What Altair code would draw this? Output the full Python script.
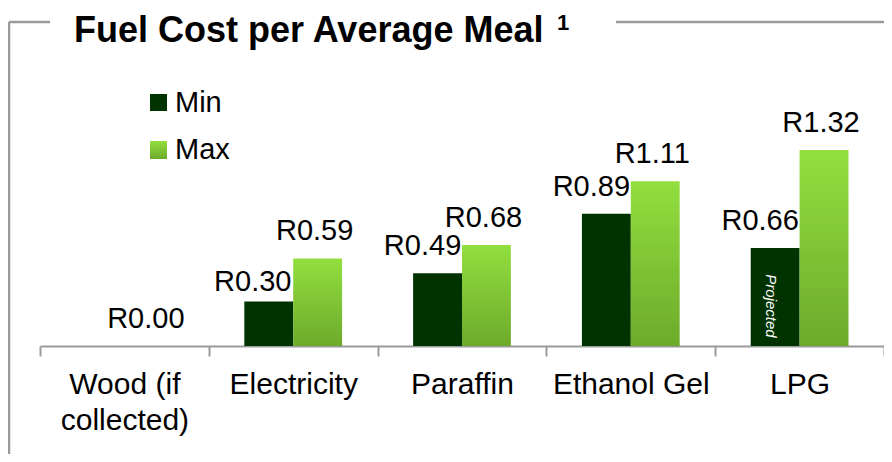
import altair as alt
import pandas as pd

# ---- data ----
categories = ["Wood (if collected)", "Electricity", "Paraffin", "Ethanol Gel", "LPG"]
series = ["Min", "Max"]
min_values = [0.00, 0.30, 0.49, 0.89, 0.66]
max_values = [0.00, 0.59, 0.68, 1.11, 1.32]
min_labels = ["", "R0.30", "R0.49", "R0.89", "R0.66"]
max_labels = ["R0.00", "R0.59", "R0.68", "R1.11", "R1.32"]

rows = []
for c, v, l in zip(categories, min_values, min_labels):
    rows.append({"category": c, "series": "Min", "value": v, "label": l})
for c, v, l in zip(categories, max_values, max_labels):
    rows.append({"category": c, "series": "Max", "value": v, "label": l})
df = pd.DataFrame(rows)
one = pd.DataFrame({"d": [0]})

FONT = "Liberation Sans"
W, H = 844, 297
GRAY = "#9a9a9a"
DARK = "#003300"
max_grad = alt.Gradient(
    gradient="linear",
    stops=[alt.GradientStop(color="#92DF3F", offset=0),
           alt.GradientStop(color="#6DAA2B", offset=1)],
    x1=0, x2=0, y1=0, y2=1,
)

x_enc = alt.X(
    "category:N", sort=categories,
    scale=alt.Scale(paddingInner=0, paddingOuter=0),
    axis=alt.Axis(
        title=None, labelAngle=0, labelFontSize=30, labelFont=FONT,
        labelColor="black", labelLineHeight=36, labelPadding=13,
        tickBand="extent", tickSize=10, tickColor=GRAY, tickWidth=2,
        domainColor=GRAY, domainWidth=2, labelAlign="center",
        labelExpr="datum.label == 'Wood (if collected)' ? ['Wood (if', 'collected)'] : datum.label",
    ),
)
xo_enc = alt.XOffset("series:N", sort=series,
                     scale=alt.Scale(domain=series, paddingOuter=0.7265, paddingInner=0))
y_enc = alt.Y("value:Q", scale=alt.Scale(domain=[0, 2], nice=False, zero=True), axis=None)

base = alt.Chart(df)

min_bars = base.transform_filter(alt.datum.series == "Min").mark_bar(fill=DARK).encode(
    x=x_enc, xOffset=xo_enc, y=y_enc)
max_bars = base.transform_filter(alt.datum.series == "Max").mark_bar(fill=max_grad).encode(
    x=x_enc, xOffset=xo_enc, y=y_enc)

min_text = base.transform_filter(
    (alt.datum.series == "Min") & (alt.datum.label != "") & (alt.datum.category != "Electricity")
).mark_text(
    font=FONT, fontSize=29, color="black", align="center", baseline="alphabetic", dy=-18, dx=-15
).encode(x=x_enc, xOffset=xo_enc, y=y_enc, text="label:N")
# the Electricity min label sits closer to its bar in the reference
min_text_elec = base.transform_filter(
    (alt.datum.series == "Min") & (alt.datum.category == "Electricity")
).mark_text(
    font=FONT, fontSize=29, color="black", align="center", baseline="alphabetic", dy=-10, dx=-16
).encode(x=x_enc, xOffset=xo_enc, y=y_enc, text="label:N")
max_text = base.transform_filter(alt.datum.series == "Max").mark_text(
    font=FONT, fontSize=29, color="black", align="center", baseline="alphabetic", dy=-18, dx=-3
).encode(x=x_enc, xOffset=xo_enc, y=y_enc, text="label:N")

projected = base.transform_filter(
    (alt.datum.series == "Min") & (alt.datum.category == "LPG")
).mark_text(
    text="Projected", font=FONT, fontSize=15, fontStyle="italic", color="white",
    angle=90, align="center", baseline="middle", dy=4
).encode(x=x_enc, xOffset=xo_enc, y=alt.value(257))

# ---- frame, title and legend ----
def rule(x1, x2, y1, y2):
    return alt.Chart(one).mark_rule(color=GRAY, strokeWidth=2.5).encode(
        x=alt.value(x1), x2=alt.value(x2), y=alt.value(y1), y2=alt.value(y2))

frame = [
    rule(-31, -31, -27, 405),
    rule(-31, 10, -27, -27),
    rule(576, 844, -27, -27),
]

title = alt.Chart(one).mark_text(
    text="Fuel Cost per Average Meal", font=FONT, fontSize=36, fontWeight="bold",
    color="black", align="left", baseline="alphabetic"
).encode(x=alt.value(34), y=alt.value(-7))
sup = alt.Chart(one).mark_text(
    text="1", font=FONT, fontSize=22, fontWeight="bold",
    color="black", align="left", baseline="alphabetic"
).encode(x=alt.value(517), y=alt.value(-19))

leg_min_box = alt.Chart(one).mark_rect(fill=DARK).encode(
    x=alt.value(110), x2=alt.value(127), y=alt.value(45), y2=alt.value(62))
leg_max_box = alt.Chart(one).mark_rect(fill=max_grad).encode(
    x=alt.value(110), x2=alt.value(127), y=alt.value(92), y2=alt.value(110))
leg_min_txt = alt.Chart(one).mark_text(
    text="Min", font=FONT, fontSize=29, color="black", align="left", baseline="alphabetic"
).encode(x=alt.value(135), y=alt.value(63))
leg_max_txt = alt.Chart(one).mark_text(
    text="Max", font=FONT, fontSize=29, color="black", align="left", baseline="alphabetic"
).encode(x=alt.value(135), y=alt.value(110))

chart = alt.layer(
    *frame, title, sup, leg_min_box, leg_max_box, leg_min_txt, leg_max_txt,
    min_bars, max_bars, min_text, min_text_elec, max_text, projected,
).properties(
    width=W, height=H,
    padding={"left": 32, "top": 41, "right": 0, "bottom": 108},
    autosize=alt.AutoSizeParams(type="none"),
    background="white",
).configure_view(stroke=None)

chart.save("out.html", embed_options={"renderer": "svg", "actions": False})
